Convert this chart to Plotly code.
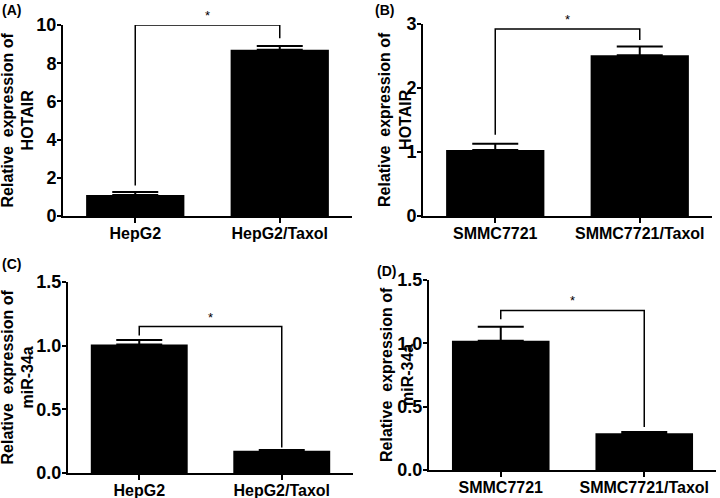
import plotly.graph_objects as go

W, H = 720, 498

# ---- data ----
cats_A = ["HepG2", "HepG2/Taxol"]
vals_A = [1.10, 8.70]
err_A = [0.16, 0.20]

cats_B = ["SMMC7721", "SMMC7721/Taxol"]
vals_B = [1.03, 2.51]
err_B = [0.10, 0.14]

cats_C = ["HepG2", "HepG2/Taxol"]
vals_C = [1.01, 0.175]
err_C = [0.035, 0.005]

cats_D = ["SMMC7721", "SMMC7721/Taxol"]
vals_D = [1.02, 0.29]
err_D = [0.11, 0.01]

# significance brackets: [left leg bottom, top, right leg bottom]
sig_A = [1.6, 10.0, 9.3]
sig_B = [1.27, 2.92, 2.75]
sig_C = [1.08, 1.15, 0.20]
sig_D = [1.19, 1.26, 0.34]

ytitles = ["Relative  expression of<br>HOTAIR", "Relative  expression of<br>HOTAIR",
           "Relative  expression of<br>miR-34a", "Relative  expression of<br>miR-34a"]
panel_labels = ["(A)", "(B)", "(C)", "(D)"]
yranges = [[0, 10], [0, 3], [0, 1.5], [0, 1.5]]
ydticks = [2, 1, 0.5, 0.5]
ytickfmt = ["d", "d", ".1f", ".1f"]

# ---- layout geometry (pixels) ----
# (x0, x1, ytop, ybottom)
boxes = [(63, 352, 25, 216), (423, 712, 24, 216), (68, 353, 282, 473), (429, 716, 280, 470)]
title_x = [17, 395, 17, 397]
label_pos = [(0, 0), (373, 0), (0, 254), (375, 261)]

FONT = "Liberation Sans, Arial, Helvetica, sans-serif"

fig = go.Figure()
panels = [(cats_A, vals_A, err_A, sig_A), (cats_B, vals_B, err_B, sig_B),
          (cats_C, vals_C, err_C, sig_C), (cats_D, vals_D, err_D, sig_D)]

for i, (cats, vals, errs, sig) in enumerate(panels):
    n = "" if i == 0 else str(i + 1)
    xa, ya = "x" + n, "y" + n
    fig.add_trace(go.Bar(
        x=cats, y=vals, xaxis=xa, yaxis=ya, width=0.68,
        marker=dict(color="black", line=dict(width=0)),
        error_y=dict(type="data", array=errs, arrayminus=[0] * len(errs), symmetric=False,
                     color="black", thickness=2, width=23),
        showlegend=False, hoverinfo="skip"))
    fig.add_trace(go.Scatter(
        x=[cats[0], cats[0], cats[1], cats[1]], y=[sig[0], sig[1], sig[1], sig[2]],
        xaxis=xa, yaxis=ya, mode="lines", line=dict(color="black", width=1.5),
        cliponaxis=False, showlegend=False, hoverinfo="skip"))
    fig.add_annotation(x=0.5, y=sig[1], xref=xa, yref=ya, text="*", showarrow=False,
                       yanchor="bottom", yshift=0, font=dict(family=FONT, size=13, color="black"))

    x0, x1, yt, yb = boxes[i]
    xkey = "xaxis" + n
    ykey = "yaxis" + n
    fig.layout[xkey] = dict(
        domain=[x0 / W, x1 / W], anchor=ya, type="category", range=[-0.5, 1.5],
        automargin=False, ticklabelstandoff=-3,
        showline=True, linecolor="black", linewidth=2, ticks="outside", ticklen=5,
        tickwidth=2, tickcolor="black", showgrid=False, zeroline=False,
        tickfont=dict(family=FONT, size=16, color="black", weight="bold"))
    fig.layout[ykey] = dict(
        domain=[1 - yb / H, 1 - yt / H], anchor=xa, range=yranges[i], dtick=ydticks[i],
        automargin=False, ticklabelstandoff=-3,
        tickformat=ytickfmt[i], showline=True, linecolor="black", linewidth=2,
        ticks="outside", ticklen=4, tickwidth=2, tickcolor="black", showgrid=False,
        zeroline=False, tickfont=dict(family=FONT, size=18, color="black", weight="bold"))

    fig.add_annotation(x=title_x[i] / W, y=1 - (yt + yb) / 2 / H, xref="paper", yref="paper",
                       text=ytitles[i], textangle=-90, showarrow=False, xanchor="center",
                       yanchor="middle", font=dict(family=FONT, size=16, color="black", weight="bold"))
    lx, ly = label_pos[i]
    fig.add_annotation(x=lx / W, y=1 - ly / H, xref="paper", yref="paper", text=panel_labels[i],
                       showarrow=False, xanchor="left", yanchor="top",
                       font=dict(family=FONT, size=14, color="black", weight="bold"))

fig.update_layout(width=W, height=H, margin=dict(l=0, r=0, t=0, b=0, autoexpand=False),
                  paper_bgcolor="white", plot_bgcolor="white", bargap=0.32)

fig.write_html("out.html", config={"displayModeBar": False, "staticPlot": True},
               post_script="document.body.style.margin='0';document.body.style.overflow='hidden';")
